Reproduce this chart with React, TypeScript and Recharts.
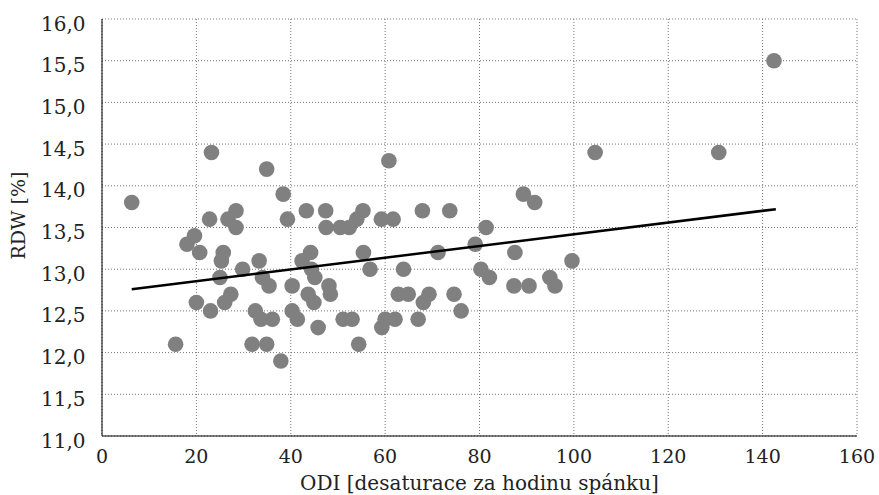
import { ComposedChart, Scatter, XAxis, YAxis, CartesianGrid, Label } from 'recharts';

// ODI values (x) and matching RDW values (y)
const odi = [
  6.3, 15.6, 18.0, 19.6, 20.0, 20.7, 22.8, 23.0, 23.2, 25.0,
  25.3, 25.7, 26.0, 26.7, 27.3, 28.4, 28.4, 29.8, 31.8, 32.5,
  33.3, 33.7, 34.0, 34.9, 34.9, 35.4, 36.1, 37.9, 38.4, 39.3,
  40.3, 40.3, 41.4, 42.4, 43.3, 43.7, 44.2, 44.4, 44.9, 45.1,
  45.8, 47.4, 47.5, 48.1, 48.4, 50.5, 51.1, 52.4, 53.0, 54.0,
  54.4, 55.3, 55.4, 56.8, 59.2, 59.3, 60.0, 60.8, 61.7, 62.1,
  62.8, 63.9, 64.9, 67.0, 67.9, 68.1, 69.3, 71.2, 73.7, 74.6,
  76.1, 79.1, 80.3, 81.4, 82.1, 87.3, 87.5, 89.3, 90.5, 91.7,
  94.9, 96.0, 99.6, 104.5, 130.7, 142.4,
];
const rdw = [
  13.8, 12.1, 13.3, 13.4, 12.6, 13.2, 13.6, 12.5, 14.4, 12.9,
  13.1, 13.2, 12.6, 13.6, 12.7, 13.7, 13.5, 13.0, 12.1, 12.5,
  13.1, 12.4, 12.9, 14.2, 12.1, 12.8, 12.4, 11.9, 13.9, 13.6,
  12.8, 12.5, 12.4, 13.1, 13.7, 12.7, 13.2, 13.0, 12.6, 12.9,
  12.3, 13.7, 13.5, 12.8, 12.7, 13.5, 12.4, 13.5, 12.4, 13.6,
  12.1, 13.7, 13.2, 13.0, 13.6, 12.3, 12.4, 14.3, 13.6, 12.4,
  12.7, 13.0, 12.7, 12.4, 13.7, 12.6, 12.7, 13.2, 13.7, 12.7,
  12.5, 13.3, 13.0, 13.5, 12.9, 12.8, 13.2, 13.9, 12.8, 13.8,
  12.9, 12.8, 13.1, 14.4, 14.4, 15.5,
];

// trend line end points
const trendX = [6.3, 142.8];
const trendY = [12.76, 13.72];

const xTicks = [0, 20, 40, 60, 80, 100, 120, 140, 160];
const yTicks = [11, 11.5, 12, 12.5, 13, 13.5, 14, 14.5, 15, 15.5, 16];

const points = odi.map((x, i) => ({ x, y: rdw[i] }));
const trend = trendX.map((x, i) => ({ x, y: trendY[i] }));

const FONT = '"DejaVu Serif", serif';

const YTick = (props: any) => {
  const { x, y, payload } = props;
  return (
    <text x={x} y={y} dy={11.5} textAnchor="end" fontFamily={FONT} fontSize={20} fill="#222">
      {payload.value.toFixed(1).replace('.', ',')}
    </text>
  );
};

const Dot = (props: any) => {
  const { cx, cy } = props;
  return <circle cx={cx} cy={cy} r={7.8} fill="#808080" />;
};

const YTitle = (props: any) => {
  const { viewBox } = props;
  const cx = viewBox.x + 18;
  const cy = viewBox.y + viewBox.height / 2 - 12;
  return (
    <text
      x={cx}
      y={cy}
      transform={`rotate(-90, ${cx}, ${cy})`}
      textAnchor="middle"
      dominantBaseline="central"
      fontFamily={FONT}
      fontSize={19}
      fill="#222"
    >
      RDW [%]
    </text>
  );
};

const App = () => {
  return (
    <div style={{ position: 'absolute', left: 0, top: 0, background: '#fff' }}>
      <ComposedChart
        width={879}
        height={495}
        margin={{ top: 19, right: 22, bottom: 0, left: 0 }}
      >
        <CartesianGrid stroke="#777" strokeDasharray="1 2" />
        <XAxis
          type="number"
          dataKey="x"
          domain={[0, 160]}
          ticks={xTicks}
          height={59}
          stroke="#000"
          tickLine={false}
          tickSize={6}
          tickMargin={8}
          tick={{ fontFamily: FONT, fontSize: 19, fill: '#222' }}
          allowDataOverflow
        >
          <Label
            value="ODI [desaturace za hodinu spánku]"
            position="insideBottom"
            offset={5}
            style={{ fontFamily: FONT, fontSize: 20, fill: '#222' }}
          />
        </XAxis>
        <YAxis
          type="number"
          dataKey="y"
          domain={[11, 16]}
          ticks={yTicks}
          width={102}
          stroke="#000"
          tickLine={false}
          tickSize={6}
          tickMargin={10.5}
          tick={YTick}
          allowDataOverflow
        >
          <Label content={YTitle} />
        </YAxis>
        <Scatter data={points} shape={Dot} isAnimationActive={false} />
        <Scatter
          data={trend}
          line={{ stroke: '#000', strokeWidth: 2.5 }}
          shape={() => null}
          isAnimationActive={false}
        />
      </ComposedChart>
    </div>
  );
};

export default App;
